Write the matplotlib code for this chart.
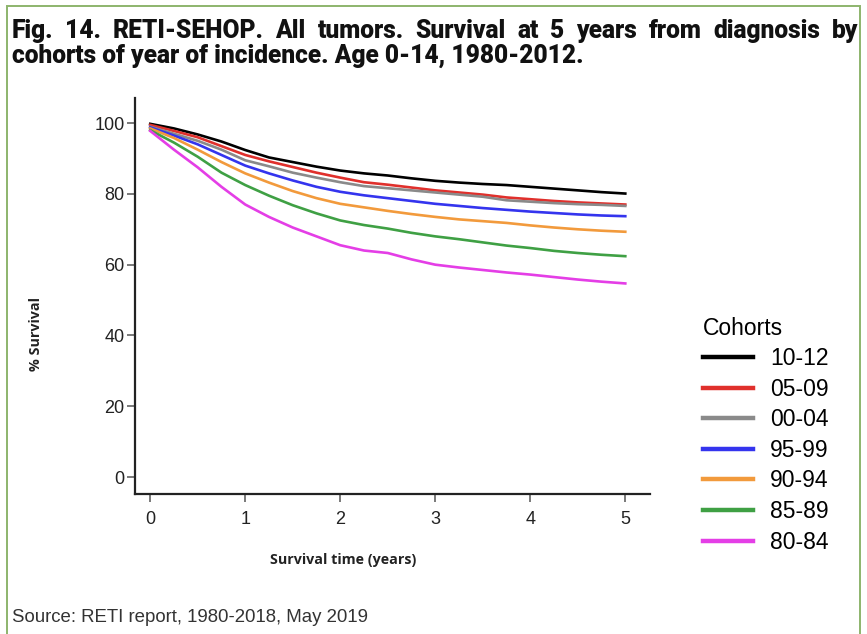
import matplotlib
matplotlib.use("Agg")
import matplotlib.pyplot as plt
from matplotlib.lines import Line2D
from matplotlib.patches import Rectangle

# Kaplan-Meier survival (%) by cohort of year of incidence, read every quarter year
years = [0, 0.25, 0.5, 0.75, 1, 1.25, 1.5, 1.75, 2, 2.25, 2.5, 2.75,
         3, 3.25, 3.5, 3.75, 4, 4.25, 4.5, 4.75, 5]

cohorts = ["10-12", "05-09", "00-04", "95-99", "90-94", "85-89", "80-84"]

surv_10_12 = [99.8, 98.5, 96.8, 94.8, 92.4, 90.3, 89.0, 87.7, 86.6, 85.8, 85.2, 84.4,
              83.7, 83.2, 82.8, 82.5, 82.0, 81.5, 81.0, 80.5, 80.1]
surv_05_09 = [99.5, 97.8, 96.0, 93.5, 91.0, 89.2, 87.6, 86.0, 84.6, 83.3, 82.6, 81.8,
              81.0, 80.4, 79.8, 79.0, 78.5, 78.0, 77.6, 77.3, 77.0]
surv_00_04 = [99.0, 97.0, 95.0, 92.5, 89.5, 87.8, 86.0, 84.6, 83.3, 82.2, 81.6, 81.0,
              80.4, 79.8, 79.2, 78.2, 77.8, 77.4, 77.1, 76.9, 76.6]
surv_95_99 = [98.8, 96.5, 94.0, 91.0, 88.0, 85.8, 83.8, 82.0, 80.6, 79.6, 78.8, 78.0,
              77.2, 76.6, 76.0, 75.5, 75.0, 74.6, 74.2, 73.9, 73.7]
surv_90_94 = [98.5, 95.8, 92.5, 89.0, 85.8, 83.2, 80.8, 78.8, 77.2, 76.2, 75.2, 74.3,
              73.5, 72.8, 72.3, 71.8, 71.1, 70.5, 70.0, 69.6, 69.3]
surv_85_89 = [98.0, 94.5, 90.5, 86.0, 82.5, 79.5, 76.8, 74.5, 72.5, 71.2, 70.2, 69.0,
              68.0, 67.2, 66.3, 65.4, 64.7, 63.9, 63.3, 62.8, 62.4]
surv_80_84 = [97.8, 92.5, 87.5, 82.0, 77.0, 73.5, 70.5, 68.0, 65.5, 64.0, 63.3, 61.5,
              60.0, 59.2, 58.5, 57.8, 57.2, 56.5, 55.8, 55.2, 54.7]

series = [surv_10_12, surv_05_09, surv_00_04, surv_95_99, surv_90_94, surv_85_89, surv_80_84]
colors = ["#000000", "#e0302c", "#8a8a8a", "#3434ee", "#f29a3c", "#3fa044", "#e43ee6"]

x_ticks = [0, 1, 2, 3, 4, 5]
y_ticks = [0, 20, 40, 60, 80, 100]

title_line1 = "Fig. 14. RETI-SEHOP. All tumors. Survival at 5 years from diagnosis by"
title_line2 = "cohorts of year of incidence. Age 0-14, 1980-2012."
source = "Source: RETI report, 1980-2018, May 2019"

W, H = 867, 634
fig = plt.figure(figsize=(W / 100, H / 100), dpi=100)
fig.patch.set_facecolor("white")

# page frame
frame = Rectangle((7 / W, -0.05), (860 - 7) / W, 1.05 - 6 / H, transform=fig.transFigure,
                  fill=False, edgecolor="#8db46c", linewidth=1.4)
fig.add_artist(frame)

ax = fig.add_axes([135 / W, 1 - 494 / H, (650 - 135) / W, (494 - 98) / H])
for s, c in zip(series, colors):
    ax.plot(years, s, color=c, linewidth=1.9, solid_joinstyle="round")

ax.set_xlim(-0.16, 5.26)
ax.set_ylim(-4.8, 107.1)
ax.set_xticks(x_ticks)
ax.set_yticks(y_ticks)
ax.set_xticklabels([str(v) for v in x_ticks])
ax.set_yticklabels([str(v) for v in y_ticks])
for side in ("top", "right"):
    ax.spines[side].set_visible(False)
for side in ("left", "bottom"):
    ax.spines[side].set_linewidth(1.6)
    ax.spines[side].set_color("#222222")
ax.tick_params(axis="both", length=5.5, width=1.1, color="#555555",
               labelsize=13, labelcolor="#222222")
ax.tick_params(axis="y", pad=2)
ax.tick_params(axis="x", pad=7)
for lab in ax.get_xticklabels() + ax.get_yticklabels():
    lab.set_fontfamily("Liberation Sans")

fig.text(343 / W, 1 - 560 / H, "Survival time (years)", ha="center", va="center",
         fontsize=10.3, fontweight="bold", family="Open Sans", color="#222222")
fig.text(36 / W, 1 - 334 / H, "% Survival", ha="center", va="center", rotation=90,
         fontsize=10.3, fontweight="bold", family="Open Sans", color="#222222")

# legend
handles = [Line2D([], [], color=c, linewidth=3.2) for c in colors]
leg = fig.legend(handles, cohorts, loc="upper left", bbox_to_anchor=(682 / W, 1 - 296 / H),
                 frameon=False, title="Cohorts", alignment="left",
                 prop={"family": "Liberation Sans", "size": 16.5},
                 title_fontproperties={"family": "Liberation Sans", "size": 16.5},
                 handlelength=2.2, handletextpad=0.75, labelspacing=0.33)

# two-line heading, first line justified to the full width
title_font = dict(fontweight="black", family="Roboto", color="#111111")
fig.canvas.draw()
renderer = fig.canvas.get_renderer()
probe = fig.text(0, 0, title_line2, fontsize=13, **title_font)
size = 13 * (583 - 12) / probe.get_window_extent(renderer).width
probe.remove()

words = title_line1.split(" ")
left_px, right_px = 12, 858
arts = [fig.text(0, 1 - 31 / H, w, ha="left", va="center", fontsize=size, **title_font)
        for w in words]
widths = [a.get_window_extent(renderer).width for a in arts]
gap = (right_px - left_px - sum(widths)) / (len(words) - 1)
xpos = left_px
for a, wdt in zip(arts, widths):
    a.set_x(xpos / W)
    xpos += wdt + gap
fig.text(left_px / W, 1 - 56 / H, title_line2, ha="left", va="center", fontsize=size,
         **title_font)

fig.text(12 / W, 1 - 618 / H, source, ha="left", va="center", fontsize=13.4,
         family="Liberation Sans", color="#333333")

fig.savefig("out.png", dpi=100)
